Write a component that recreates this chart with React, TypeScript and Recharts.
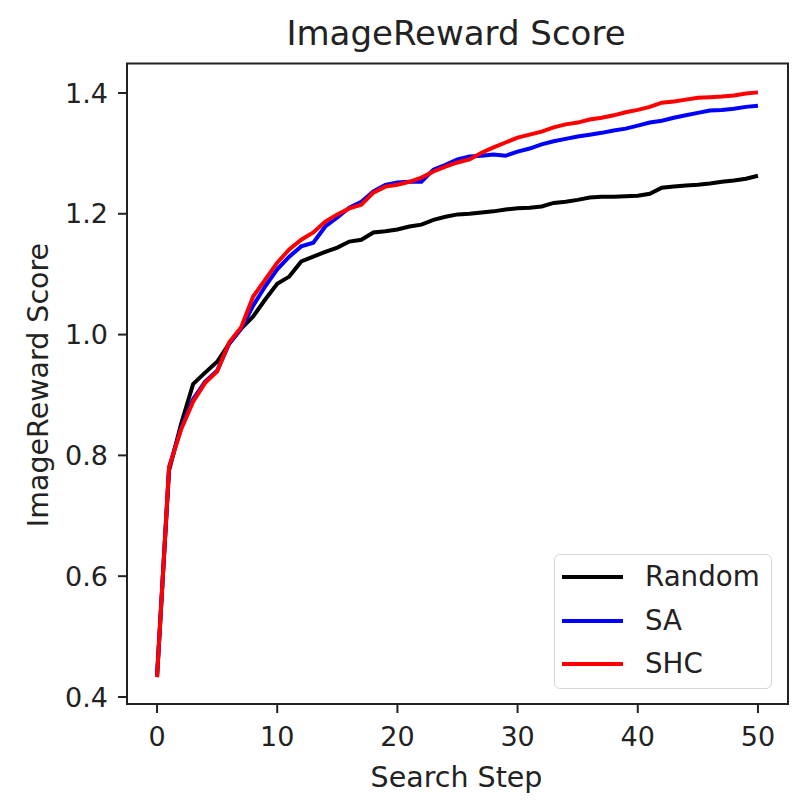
import {LineChart, Line, XAxis, YAxis, ReferenceArea} from 'recharts';

const steps = Array.from({length: 51}, (_, i) => i);

const randomScores = [
    0.435, 0.775, 0.852, 0.918, 0.937, 0.955, 0.985, 1.01, 1.03, 1.058,
    1.084, 1.096, 1.121, 1.129, 1.137, 1.144, 1.154, 1.157, 1.169, 1.171,
    1.174, 1.179, 1.182, 1.19, 1.195, 1.199, 1.2, 1.202, 1.204, 1.207,
    1.209, 1.21, 1.212, 1.218, 1.22, 1.223, 1.227, 1.228, 1.228, 1.229,
    1.23, 1.233, 1.243, 1.245, 1.247, 1.248, 1.25, 1.253, 1.255, 1.258,
    1.263,
];

const saScores = [
    0.433, 0.78, 0.845, 0.893, 0.922, 0.94, 0.985, 1.01, 1.048, 1.08,
    1.108, 1.129, 1.146, 1.152, 1.179, 1.194, 1.21, 1.22, 1.237, 1.248,
    1.252, 1.253, 1.253, 1.273, 1.281, 1.29, 1.295, 1.296, 1.298, 1.296,
    1.303, 1.308, 1.315, 1.32, 1.324, 1.328, 1.331, 1.334, 1.338, 1.341,
    1.346, 1.351, 1.354, 1.359, 1.363, 1.367, 1.371, 1.372, 1.374, 1.377,
    1.379,
];

const shcScores = [
    0.433, 0.78, 0.843, 0.889, 0.92, 0.939, 0.987, 1.012, 1.063, 1.091,
    1.119, 1.141, 1.157, 1.169, 1.187, 1.199, 1.209, 1.215, 1.235, 1.245,
    1.248, 1.253, 1.26, 1.27, 1.278, 1.285, 1.29, 1.301, 1.31, 1.318,
    1.326, 1.331, 1.336, 1.343, 1.348, 1.351, 1.356, 1.359, 1.363, 1.368,
    1.372, 1.377, 1.384, 1.386, 1.389, 1.392, 1.393, 1.394, 1.396, 1.399,
    1.401,
];

const xTicks = [0, 10, 20, 30, 40, 50];
const yTicks = [0.4, 0.6, 0.8, 1.0, 1.2, 1.4];

const series = [
    {key: 'random', name: 'Random', color: '#000000'},
    {key: 'sa', name: 'SA', color: '#0000ff'},
    {key: 'shc', name: 'SHC', color: '#ff0000'},
];

const data = steps.map((s, i) => ({
    step: s,
    random: randomScores[i],
    sa: saScores[i],
    shc: shcScores[i],
}));

const FONT = '"DejaVu Sans", sans-serif';
const X_DOMAIN: [number, number] = [-2.5, 52.5];
const Y_DOMAIN: [number, number] = [0.3884, 1.4488];
const LABEL_SIZE = 28.5;

const tickStyle = {fill: '#222', fontSize: 27, fontFamily: FONT};

// legend drawn as an overlay so it doesn't eat into the plot area
const LegendBox = () => (
    <div style={{
        position: 'absolute', left: 554, top: 554, width: 218, height: 135, boxSizing: 'border-box',
        border: '1.5px solid #d6d6d6', borderRadius: 6, background: 'rgba(255,255,255,0.8)',
        fontSize: 27.7, color: '#222',
    }}>
        {series.map((s, i) => (
            <div key={s.key} style={{position: 'absolute', left: 0, top: 22 + i * 43.5, width: '100%'}}>
                <div style={{position: 'absolute', left: 7, top: -2, width: 61, height: 4, background: s.color}}/>
                <div style={{position: 'absolute', left: 90, top: -13.8, lineHeight: 1, whiteSpace: 'nowrap'}}>{s.name}</div>
            </div>
        ))}
    </div>
);

export default function App() {
    return (
        <div style={{position: 'absolute', left: 0, top: 0, width: 805, height: 802, background: '#fff', fontFamily: FONT}}>
            <div style={{position: 'absolute', left: 456, top: 45 - 0.846 * 34, transform: 'translateX(-50%)', fontSize: 34, lineHeight: 1, color: '#222', whiteSpace: 'nowrap'}}>
                ImageReward Score
            </div>
            <div style={{position: 'absolute', left: 456.5, top: 788 - 0.846 * LABEL_SIZE, transform: 'translateX(-50%)', fontSize: LABEL_SIZE, lineHeight: 1, color: '#222', whiteSpace: 'nowrap'}}>
                Search Step
            </div>
            <div style={{position: 'absolute', left: 39, top: 385, transform: 'translate(-50%, -50%) rotate(-90deg)', fontSize: LABEL_SIZE, lineHeight: 1, color: '#222', whiteSpace: 'nowrap'}}>
                ImageReward Score
            </div>
            <LineChart width={805} height={802} data={data} margin={{top: 63.5, right: 17, left: 27, bottom: 38}}>
                <XAxis
                    dataKey="step"
                    type="number"
                    domain={X_DOMAIN}
                    ticks={xTicks}
                    allowDataOverflow
                    height={60}
                    axisLine={false}
                    tickSize={9}
                    tickMargin={14}
                    tickLine={{stroke: '#222', strokeWidth: 2}}
                    tick={tickStyle}
                />
                <YAxis
                    type="number"
                    domain={Y_DOMAIN}
                    ticks={yTicks}
                    allowDataOverflow
                    width={100}
                    axisLine={false}
                    tickSize={9}
                    tickMargin={10}
                    tickLine={{stroke: '#222', strokeWidth: 2}}
                    tick={tickStyle}
                    tickFormatter={(v: number) => v.toFixed(1)}
                />
                <ReferenceArea x1={X_DOMAIN[0]} x2={X_DOMAIN[1]} y1={Y_DOMAIN[0]} y2={Y_DOMAIN[1]}
                               fill="none" stroke="#222" strokeWidth={2} ifOverflow="visible"/>
                {series.map(s => (
                    <Line
                        key={s.key}
                        type="linear"
                        dataKey={s.key}
                        name={s.name}
                        stroke={s.color}
                        strokeWidth={4}
                        dot={false}
                        activeDot={false}
                        isAnimationActive={false}
                    />
                ))}
            </LineChart>
            <LegendBox/>
        </div>
    );
}
